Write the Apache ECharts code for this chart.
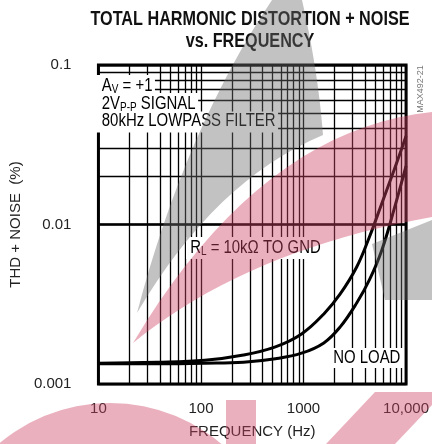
<!DOCTYPE html>
<html>
<head>
<meta charset="utf-8">
<script src="https://cdn.jsdelivr.net/npm/echarts@6/dist/echarts.min.js"></script>
<style>
  html, body { margin: 0; padding: 0; background: #fff; }
  #chart { width: 432px; height: 444px; }
</style>
</head>
<body>
<div id="chart"></div>
<script>
// Frequency sweep points (Hz)
const freqHz = [10, 37, 109, 260, 532, 957, 1578, 2280, 3300, 4390, 5810, 7710, 10000];
// THD+N (%) with RL = 10kΩ to GND
const thdLoad10k = [0.00135, 0.00137, 0.00141, 0.00152, 0.00171, 0.00206, 0.00275, 0.00367, 0.00541, 0.00835, 0.0136, 0.0223, 0.0359];
// THD+N (%) with no load
const thdNoLoad = [0.00134, 0.00134, 0.00135, 0.00137, 0.00144, 0.00156, 0.00181, 0.00228, 0.00322, 0.00449, 0.00692, 0.0127, 0.0233];

// Axis ticks and labels
const xTicks = [10, 100, 1000, 10000];
const xTickLabels = ['10', '100', '1000', '10,000'];
const yTicks = [0.001, 0.01, 0.1];
const yTickLabels = ['0.001', '0.01', '0.1'];
// Intermediate log-grid lines
const xMinorLines = [20, 30, 40, 50, 60, 70, 80, 90, 200, 300, 400, 500, 600, 700, 800, 900, 2000, 3000, 4000, 5000, 6000, 7000, 8000, 9000];
const yMinorLines = [0.002, 0.003, 0.004, 0.005, 0.006, 0.007, 0.008, 0.009, 0.02, 0.03, 0.04, 0.05, 0.06, 0.07, 0.08, 0.09];

const SANS = "'Liberation Sans', Arial, sans-serif";
const NARROW_X = 0.83;   // horizontal squeeze for the narrow lettering

function pickLabel(ticks, labels, v) {
  for (let i = 0; i < ticks.length; i++) {
    if (Math.abs(Math.log10(v) - Math.log10(ticks[i])) < 1e-6) return labels[i];
  }
  return '';
}

// Sample a quadratic Bezier segment into polygon points
function quad(p0, c, p1, n) {
  const pts = [];
  for (let i = 0; i <= n; i++) {
    const t = i / n, u = 1 - t;
    pts.push([u * u * p0[0] + 2 * u * t * c[0] + t * t * p1[0],
              u * u * p0[1] + 2 * u * t * c[1] + t * t * p1[1]]);
  }
  return pts;
}

const chart = echarts.init(document.getElementById('chart'), null, { renderer: 'canvas' });

const gridLine = { color: '#000', width: 1.3, type: 'solid' };
const PINK = '#cc4263';
const GRAY = '#6e6e6e';
const INK = '#111';

function note(x, y, text, pad) {
  return {
    type: 'text', x: x, y: y, scaleX: NARROW_X, z: 10, silent: true,
    style: {
      text: text, verticalAlign: 'middle', align: 'left',
      backgroundColor: '#fff', padding: pad,
      rich: {
        n: { fontFamily: SANS, fontSize: 18, color: INK },
        s: { fontFamily: SANS, fontSize: 12, color: INK, padding: [8, 0, 0, 0] }
      }
    }
  };
}

const grayBand = [[272, 0], [302, 0]]
  .concat(quad([302, 0], [318, 70], [323, 135], 12))
  .concat(quad([323, 135], [215, 180], [137, 313], 16))
  .concat(quad([137, 313], [185, 130], [272, 0], 16));
const pinkBand = quad([432, 112], [260, 130], [133, 343], 20)
  .concat(quad([133, 343], [247, 250], [432, 217], 20));

const curveStyle = { color: '#000', width: 3 };

const option = {
  animation: false,
  backgroundColor: '#fff',
  grid: {
    left: 90, right: 24, top: 65, bottom: 60,
    show: true, borderColor: '#000', borderWidth: 3, backgroundColor: 'transparent'
  },
  xAxis: {
    type: 'log', logBase: 10, min: 10, max: 10000,
    name: 'FREQUENCY (Hz)', nameLocation: 'middle', nameGap: 40,
    nameTextStyle: { fontFamily: SANS, fontSize: 15, color: '#222' },
    axisLine: { show: false }, axisTick: { show: false },
    axisLabel: {
      fontFamily: SANS, fontSize: 15, color: '#222', margin: 17,
      formatter: v => pickLabel(xTicks, xTickLabels, v)
    },
    splitLine: { show: true, lineStyle: gridLine }
  },
  yAxis: {
    type: 'log', logBase: 10, min: 0.001, max: 0.1,
    name: 'THD + NOISE  (%)', nameLocation: 'middle', nameGap: 64, nameRotate: 90,
    nameTextStyle: { fontFamily: SANS, fontSize: 15, color: '#222' },
    axisLine: { show: false }, axisTick: { show: false },
    axisLabel: {
      fontFamily: SANS, fontSize: 15, color: '#222', margin: 27,
      formatter: v => pickLabel(yTicks, yTickLabels, v)
    },
    splitLine: { show: true, lineStyle: gridLine }
  },
  series: [
    {
      // carries the intermediate grid lines
      type: 'line', data: [], z: 1, silent: true,
      markLine: {
        silent: true, symbol: 'none', animation: false,
        label: { show: false },
        lineStyle: gridLine,
        emphasis: { disabled: true },
        data: xMinorLines.map(v => ({ xAxis: v })).concat(yMinorLines.map(v => ({ yAxis: v })))
      }
    },
    {
      name: 'RL = 10kΩ TO GND', type: 'line', z: 3,
      data: freqHz.map((f, i) => [f, thdLoad10k[i]]),
      showSymbol: false, smooth: 0.4,
      lineStyle: curveStyle
    },
    {
      name: 'NO LOAD', type: 'line', z: 3,
      data: freqHz.map((f, i) => [f, thdNoLoad[i]]),
      showSymbol: false, smooth: 0.4,
      lineStyle: curveStyle
    }
  ],
  graphic: [
    // heading
    {
      type: 'text', x: 250, y: 8, scaleX: 0.81, z: 10, silent: true,
      style: {
        text: 'TOTAL HARMONIC DISTORTION + NOISE\nvs. FREQUENCY',
        font: 'bold 20px ' + SANS, fill: INK, align: 'center', verticalAlign: 'top',
        lineHeight: 22
      }
    },
    // condition notes
    note(96, 86, '{n|A}{s|V}{n| = +1}', [1, 3, 1, 7]),
    note(96, 104, '{n|2V}{s|P-P}{n| SIGNAL}', [1, 3, 1, 7]),
    note(96, 122, '{n|80kHz LOWPASS FILTER}', [1, 3, 2, 7]),
    note(186, 248, '{n|R}{s|L}{n| = 10kΩ TO GND}', [1, 4, 1, 5]),
    note(329, 358, '{n|NO LOAD}', [1, 4, 1, 5]),
    {
      type: 'text', x: 421, y: 89, rotation: Math.PI / 2, z: 10, silent: true,
      style: { text: 'MAX492-21', font: '9px ' + SANS, fill: '#777', align: 'center', verticalAlign: 'middle' }
    },
    // logo artwork laid over the sheet
    {
      type: 'polygon', z: 50, silent: true,
      shape: { points: grayBand },
      style: { fill: GRAY, opacity: 0.42 }
    },
    {
      type: 'polygon', z: 50, silent: true,
      shape: { points: [[372, 244], [432, 220], [432, 300], [385, 300]] },
      style: { fill: GRAY, opacity: 0.42 }
    },
    {
      type: 'polygon', z: 51, silent: true,
      shape: { points: pinkBand },
      style: { fill: PINK, opacity: 0.42 }
    },
    {
      type: 'circle', z: 51, silent: true,
      shape: { cx: 110, cy: 575, r: 172 },
      style: { fill: PINK, opacity: 0.42 }
    },
    {
      type: 'rect', z: 51, silent: true,
      shape: { x: 226, y: 400, width: 30, height: 44 },
      style: { fill: PINK, opacity: 0.42 }
    },
    {
      type: 'polygon', z: 51, silent: true,
      shape: { points: [[326, 444], [375, 392], [432, 392], [432, 405], [395, 444]] },
      style: { fill: PINK, opacity: 0.42 }
    }
  ]
};

chart.setOption(option);
</script>
</body>
</html>
